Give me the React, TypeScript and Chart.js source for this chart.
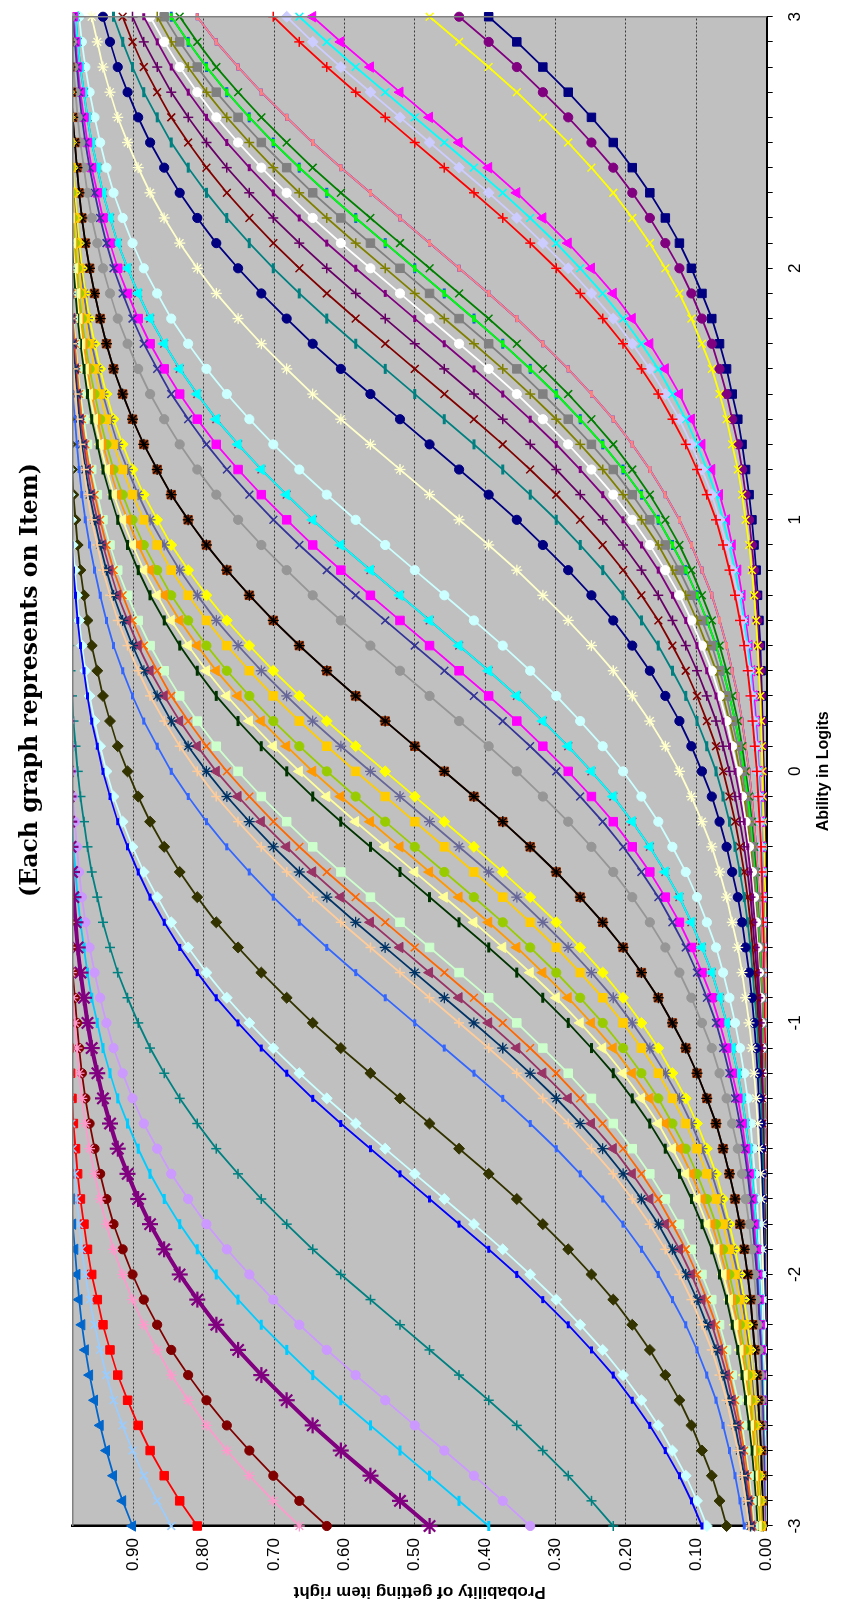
import React, { useEffect, useRef } from 'react';
import { Chart, registerables } from 'chart.js';

Chart.register(...registerables);

const CANVAS_W = 1606;
const CANVAS_H = 843;

const TITLE = '(Each graph represents on Item)';
const X_TITLE = 'Ability in Logits';
const Y_TITLE = 'Probability of getting item right';

const ABILITY = [-3, -2.9, -2.8, -2.7, -2.6, -2.5, -2.4, -2.3, -2.2, -2.1, -2, -1.9, -1.8, -1.7, -1.6, -1.5, -1.4, -1.3, -1.2, -1.1, -1, -0.9, -0.8, -0.7, -0.6, -0.5, -0.4, -0.3, -0.2, -0.1, 0, 0.1, 0.2, 0.3, 0.4, 0.5, 0.6, 0.7, 0.8, 0.9, 1, 1.1, 1.2, 1.3, 1.4, 1.5, 1.6, 1.7, 1.8, 1.9, 2, 2.1, 2.2, 2.3, 2.4, 2.5, 2.6, 2.7, 2.8, 2.9, 3];
const PROB_TICKS = [0, 0.1, 0.2, 0.3, 0.4, 0.5, 0.6, 0.7, 0.8, 0.9];
const PROB_MAX = 0.986;

const ITEM_01 = [.901,.915,.928,.938,.947,.955,.962,.968,.973,.977,.98,.983,.986,.988,.99,.991,.993,.994,.995,.996,.996,.997,.997,.998,.998,.998,.999,.999,.999,.999,.999,.999,1,1,1,1,1,1,1,1,1,1,1,1,1,1,1,1,1,1,1,1,1,1,1,1,1,1,1,1,1];
const ITEM_02 = [.846,.866,.885,.901,.915,.928,.938,.947,.955,.962,.968,.973,.977,.98,.983,.986,.988,.99,.991,.993,.994,.995,.996,.996,.997,.997,.998,.998,.998,.999,.999,.999,.999,.999,.999,1,1,1,1,1,1,1,1,1,1,1,1,1,1,1,1,1,1,1,1,1,1,1,1,1,1];
const ITEM_03 = [.809,.834,.856,.876,.893,.908,.922,.933,.943,.951,.959,.965,.97,.975,.979,.982,.985,.987,.989,.991,.992,.993,.994,.995,.996,.997,.997,.998,.998,.998,.999,.999,.999,.999,.999,.999,.999,1,1,1,1,1,1,1,1,1,1,1,1,1,1,1,1,1,1,1,1,1,1,1,1];
const ITEM_04 = [.664,.701,.735,.767,.796,.822,.846,.866,.885,.901,.915,.928,.938,.947,.955,.962,.968,.973,.977,.98,.983,.986,.988,.99,.991,.993,.994,.995,.996,.996,.997,.997,.998,.998,.998,.999,.999,.999,.999,.999,.999,1,1,1,1,1,1,1,1,1,1,1,1,1,1,1,1,1,1,1,1];
const ITEM_05 = [.625,.664,.701,.735,.767,.796,.822,.846,.866,.885,.901,.915,.928,.938,.947,.955,.962,.968,.973,.977,.98,.983,.986,.988,.99,.991,.993,.994,.995,.996,.996,.997,.997,.998,.998,.998,.999,.999,.999,.999,.999,.999,1,1,1,1,1,1,1,1,1,1,1,1,1,1,1,1,1,1,1];
const ITEM_06 = [.479,.521,.563,.605,.645,.682,.718,.751,.782,.809,.834,.856,.876,.893,.908,.922,.933,.943,.951,.959,.965,.97,.975,.979,.982,.985,.987,.989,.991,.992,.993,.994,.995,.996,.997,.997,.998,.998,.998,.999,.999,.999,.999,.999,.999,.999,1,1,1,1,1,1,1,1,1,1,1,1,1,1,1];
const ITEM_07 = [.395,.437,.479,.521,.563,.605,.645,.682,.718,.751,.782,.809,.834,.856,.876,.893,.908,.922,.933,.943,.951,.959,.965,.97,.975,.979,.982,.985,.987,.989,.991,.992,.993,.994,.995,.996,.997,.997,.998,.998,.998,.999,.999,.999,.999,.999,.999,.999,1,1,1,1,1,1,1,1,1,1,1,1,1];
const ITEM_08 = [.336,.375,.416,.458,.5,.542,.584,.625,.664,.701,.735,.767,.796,.822,.846,.866,.885,.901,.915,.928,.938,.947,.955,.962,.968,.973,.977,.98,.983,.986,.988,.99,.991,.993,.994,.995,.996,.996,.997,.997,.998,.998,.998,.999,.999,.999,.999,.999,.999,1,1,1,1,1,1,1,1,1,1,1,1];
const ITEM_09 = [.218,.249,.282,.318,.355,.395,.437,.479,.521,.563,.605,.645,.682,.718,.751,.782,.809,.834,.856,.876,.893,.908,.922,.933,.943,.951,.959,.965,.97,.975,.979,.982,.985,.987,.989,.991,.992,.993,.994,.995,.996,.997,.997,.998,.998,.998,.999,.999,.999,.999,.999,.999,.999,1,1,1,1,1,1,1,1];
const ITEM_10 = [.092,.107,.124,.144,.166,.191,.218,.249,.282,.318,.355,.395,.437,.479,.521,.563,.605,.645,.682,.718,.751,.782,.809,.834,.856,.876,.893,.908,.922,.933,.943,.951,.959,.965,.97,.975,.979,.982,.985,.987,.989,.991,.992,.993,.994,.995,.996,.997,.997,.998,.998,.998,.999,.999,.999,.999,.999,.999,.999,1,1];
const ITEM_11 = [.085,.099,.115,.134,.154,.178,.204,.233,.265,.299,.336,.375,.416,.458,.5,.542,.584,.625,.664,.701,.735,.767,.796,.822,.846,.866,.885,.901,.915,.928,.938,.947,.955,.962,.968,.973,.977,.98,.983,.986,.988,.99,.991,.993,.994,.995,.996,.996,.997,.997,.998,.998,.998,.999,.999,.999,.999,.999,.999,1,1];
const ITEM_12 = [.057,.067,.078,.092,.107,.124,.144,.166,.191,.218,.249,.282,.318,.355,.395,.437,.479,.521,.563,.605,.645,.682,.718,.751,.782,.809,.834,.856,.876,.893,.908,.922,.933,.943,.951,.959,.965,.97,.975,.979,.982,.985,.987,.989,.991,.992,.993,.994,.995,.996,.997,.997,.998,.998,.998,.999,.999,.999,.999,.999,.999];
const ITEM_13 = [.032,.038,.045,.053,.062,.072,.085,.099,.115,.134,.154,.178,.204,.233,.265,.299,.336,.375,.416,.458,.5,.542,.584,.625,.664,.701,.735,.767,.796,.822,.846,.866,.885,.901,.915,.928,.938,.947,.955,.962,.968,.973,.977,.98,.983,.986,.988,.99,.991,.993,.994,.995,.996,.996,.997,.997,.998,.998,.998,.999,.999];
const ITEM_14 = [.025,.03,.035,.041,.049,.057,.067,.078,.092,.107,.124,.144,.166,.191,.218,.249,.282,.318,.355,.395,.437,.479,.521,.563,.605,.645,.682,.718,.751,.782,.809,.834,.856,.876,.893,.908,.922,.933,.943,.951,.959,.965,.97,.975,.979,.982,.985,.987,.989,.991,.992,.993,.994,.995,.996,.997,.997,.998,.998,.998,.999];
const ITEM_15 = [.023,.027,.032,.038,.045,.053,.062,.072,.085,.099,.115,.134,.154,.178,.204,.233,.265,.299,.336,.375,.416,.458,.5,.542,.584,.625,.664,.701,.735,.767,.796,.822,.846,.866,.885,.901,.915,.928,.938,.947,.955,.962,.968,.973,.977,.98,.983,.986,.988,.99,.991,.993,.994,.995,.996,.996,.997,.997,.998,.998,.998];
const ITEM_16 = [.021,.025,.03,.035,.041,.049,.057,.067,.078,.092,.107,.124,.144,.166,.191,.218,.249,.282,.318,.355,.395,.437,.479,.521,.563,.605,.645,.682,.718,.751,.782,.809,.834,.856,.876,.893,.908,.922,.933,.943,.951,.959,.965,.97,.975,.979,.982,.985,.987,.989,.991,.992,.993,.994,.995,.996,.997,.997,.998,.998,.998];
const ITEM_17 = [.02,.023,.027,.032,.038,.045,.053,.062,.072,.085,.099,.115,.134,.154,.178,.204,.233,.265,.299,.336,.375,.416,.458,.5,.542,.584,.625,.664,.701,.735,.767,.796,.822,.846,.866,.885,.901,.915,.928,.938,.947,.955,.962,.968,.973,.977,.98,.983,.986,.988,.99,.991,.993,.994,.995,.996,.996,.997,.997,.998,.998];
const ITEM_18 = [.018,.021,.025,.03,.035,.041,.049,.057,.067,.078,.092,.107,.124,.144,.166,.191,.218,.249,.282,.318,.355,.395,.437,.479,.521,.563,.605,.645,.682,.718,.751,.782,.809,.834,.856,.876,.893,.908,.922,.933,.943,.951,.959,.965,.97,.975,.979,.982,.985,.987,.989,.991,.992,.993,.994,.995,.996,.997,.997,.998,.998];
const ITEM_19 = [.013,.015,.018,.021,.025,.03,.035,.041,.049,.057,.067,.078,.092,.107,.124,.144,.166,.191,.218,.249,.282,.318,.355,.395,.437,.479,.521,.563,.605,.645,.682,.718,.751,.782,.809,.834,.856,.876,.893,.908,.922,.933,.943,.951,.959,.965,.97,.975,.979,.982,.985,.987,.989,.991,.992,.993,.994,.995,.996,.997,.997];
const ITEM_20 = [.012,.014,.017,.02,.023,.027,.032,.038,.045,.053,.062,.072,.085,.099,.115,.134,.154,.178,.204,.233,.265,.299,.336,.375,.416,.458,.5,.542,.584,.625,.664,.701,.735,.767,.796,.822,.846,.866,.885,.901,.915,.928,.938,.947,.955,.962,.968,.973,.977,.98,.983,.986,.988,.99,.991,.993,.994,.995,.996,.996,.997];
const ITEM_21 = [.011,.013,.015,.018,.021,.025,.03,.035,.041,.049,.057,.067,.078,.092,.107,.124,.144,.166,.191,.218,.249,.282,.318,.355,.395,.437,.479,.521,.563,.605,.645,.682,.718,.751,.782,.809,.834,.856,.876,.893,.908,.922,.933,.943,.951,.959,.965,.97,.975,.979,.982,.985,.987,.989,.991,.992,.993,.994,.995,.996,.997];
const ITEM_22 = [.01,.012,.014,.017,.02,.023,.027,.032,.038,.045,.053,.062,.072,.085,.099,.115,.134,.154,.178,.204,.233,.265,.299,.336,.375,.416,.458,.5,.542,.584,.625,.664,.701,.735,.767,.796,.822,.846,.866,.885,.901,.915,.928,.938,.947,.955,.962,.968,.973,.977,.98,.983,.986,.988,.99,.991,.993,.994,.995,.996,.996];
const ITEM_23 = [.008,.01,.012,.014,.017,.02,.023,.027,.032,.038,.045,.053,.062,.072,.085,.099,.115,.134,.154,.178,.204,.233,.265,.299,.336,.375,.416,.458,.5,.542,.584,.625,.664,.701,.735,.767,.796,.822,.846,.866,.885,.901,.915,.928,.938,.947,.955,.962,.968,.973,.977,.98,.983,.986,.988,.99,.991,.993,.994,.995,.996];
const ITEM_24 = [.008,.009,.011,.013,.015,.018,.021,.025,.03,.035,.041,.049,.057,.067,.078,.092,.107,.124,.144,.166,.191,.218,.249,.282,.318,.355,.395,.437,.479,.521,.563,.605,.645,.682,.718,.751,.782,.809,.834,.856,.876,.893,.908,.922,.933,.943,.951,.959,.965,.97,.975,.979,.982,.985,.987,.989,.991,.992,.993,.994,.995];
const ITEM_25 = [.007,.008,.01,.012,.014,.017,.02,.023,.027,.032,.038,.045,.053,.062,.072,.085,.099,.115,.134,.154,.178,.204,.233,.265,.299,.336,.375,.416,.458,.5,.542,.584,.625,.664,.701,.735,.767,.796,.822,.846,.866,.885,.901,.915,.928,.938,.947,.955,.962,.968,.973,.977,.98,.983,.986,.988,.99,.991,.993,.994,.995];
const ITEM_26 = [.005,.006,.007,.008,.01,.012,.014,.017,.02,.023,.027,.032,.038,.045,.053,.062,.072,.085,.099,.115,.134,.154,.178,.204,.233,.265,.299,.336,.375,.416,.458,.5,.542,.584,.625,.664,.701,.735,.767,.796,.822,.846,.866,.885,.901,.915,.928,.938,.947,.955,.962,.968,.973,.977,.98,.983,.986,.988,.99,.991,.993];
const ITEM_27 = [.005,.006,.007,.008,.01,.012,.014,.017,.02,.023,.027,.032,.038,.045,.053,.062,.072,.085,.099,.115,.134,.154,.178,.204,.233,.265,.299,.336,.375,.416,.458,.5,.542,.584,.625,.664,.701,.735,.767,.796,.822,.846,.866,.885,.901,.915,.928,.938,.947,.955,.962,.968,.973,.977,.98,.983,.986,.988,.99,.991,.993];
const ITEM_28 = [.003,.004,.005,.006,.007,.008,.009,.011,.013,.015,.018,.021,.025,.03,.035,.041,.049,.057,.067,.078,.092,.107,.124,.144,.166,.191,.218,.249,.282,.318,.355,.395,.437,.479,.521,.563,.605,.645,.682,.718,.751,.782,.809,.834,.856,.876,.893,.908,.922,.933,.943,.951,.959,.965,.97,.975,.979,.982,.985,.987,.989];
const ITEM_29 = [.003,.003,.004,.004,.005,.006,.007,.008,.01,.012,.014,.017,.02,.023,.027,.032,.038,.045,.053,.062,.072,.085,.099,.115,.134,.154,.178,.204,.233,.265,.299,.336,.375,.416,.458,.5,.542,.584,.625,.664,.701,.735,.767,.796,.822,.846,.866,.885,.901,.915,.928,.938,.947,.955,.962,.968,.973,.977,.98,.983,.986];
const ITEM_30 = [.002,.003,.003,.004,.005,.006,.007,.008,.009,.011,.013,.015,.018,.021,.025,.03,.035,.041,.049,.057,.067,.078,.092,.107,.124,.144,.166,.191,.218,.249,.282,.318,.355,.395,.437,.479,.521,.563,.605,.645,.682,.718,.751,.782,.809,.834,.856,.876,.893,.908,.922,.933,.943,.951,.959,.965,.97,.975,.979,.982,.985];
const ITEM_31 = [.002,.002,.003,.003,.004,.005,.006,.007,.008,.009,.011,.013,.015,.018,.021,.025,.03,.035,.041,.049,.057,.067,.078,.092,.107,.124,.144,.166,.191,.218,.249,.282,.318,.355,.395,.437,.479,.521,.563,.605,.645,.682,.718,.751,.782,.809,.834,.856,.876,.893,.908,.922,.933,.943,.951,.959,.965,.97,.975,.979,.982];
const ITEM_32 = [.002,.002,.003,.003,.004,.005,.006,.007,.008,.009,.011,.013,.015,.018,.021,.025,.03,.035,.041,.049,.057,.067,.078,.092,.107,.124,.144,.166,.191,.218,.249,.282,.318,.355,.395,.437,.479,.521,.563,.605,.645,.682,.718,.751,.782,.809,.834,.856,.876,.893,.908,.922,.933,.943,.951,.959,.965,.97,.975,.979,.982];
const ITEM_33 = [.002,.002,.002,.003,.003,.004,.004,.005,.006,.007,.008,.01,.012,.014,.017,.02,.023,.027,.032,.038,.045,.053,.062,.072,.085,.099,.115,.134,.154,.178,.204,.233,.265,.299,.336,.375,.416,.458,.5,.542,.584,.625,.664,.701,.735,.767,.796,.822,.846,.866,.885,.901,.915,.928,.938,.947,.955,.962,.968,.973,.977];
const ITEM_34 = [.001,.001,.001,.001,.002,.002,.002,.003,.003,.004,.005,.006,.007,.008,.009,.011,.013,.015,.018,.021,.025,.03,.035,.041,.049,.057,.067,.078,.092,.107,.124,.144,.166,.191,.218,.249,.282,.318,.355,.395,.437,.479,.521,.563,.605,.645,.682,.718,.751,.782,.809,.834,.856,.876,.893,.908,.922,.933,.943,.951,.959];
const ITEM_35 = [.001,.001,.001,.001,.001,.001,.002,.002,.002,.003,.003,.004,.005,.006,.007,.008,.009,.011,.013,.015,.018,.021,.025,.03,.035,.041,.049,.057,.067,.078,.092,.107,.124,.144,.166,.191,.218,.249,.282,.318,.355,.395,.437,.479,.521,.563,.605,.645,.682,.718,.751,.782,.809,.834,.856,.876,.893,.908,.922,.933,.943];
const ITEM_36 = [0,.001,.001,.001,.001,.001,.001,.002,.002,.002,.003,.003,.004,.004,.005,.006,.007,.008,.01,.012,.014,.017,.02,.023,.027,.032,.038,.045,.053,.062,.072,.085,.099,.115,.134,.154,.178,.204,.233,.265,.299,.336,.375,.416,.458,.5,.542,.584,.625,.664,.701,.735,.767,.796,.822,.846,.866,.885,.901,.915,.928];
const ITEM_37 = [0,0,.001,.001,.001,.001,.001,.001,.002,.002,.002,.003,.003,.004,.004,.005,.006,.007,.008,.01,.012,.014,.017,.02,.023,.027,.032,.038,.045,.053,.062,.072,.085,.099,.115,.134,.154,.178,.204,.233,.265,.299,.336,.375,.416,.458,.5,.542,.584,.625,.664,.701,.735,.767,.796,.822,.846,.866,.885,.901,.915];
const ITEM_38 = [0,0,0,.001,.001,.001,.001,.001,.001,.002,.002,.002,.003,.003,.004,.004,.005,.006,.007,.008,.01,.012,.014,.017,.02,.023,.027,.032,.038,.045,.053,.062,.072,.085,.099,.115,.134,.154,.178,.204,.233,.265,.299,.336,.375,.416,.458,.5,.542,.584,.625,.664,.701,.735,.767,.796,.822,.846,.866,.885,.901];
const ITEM_39 = [0,0,0,0,.001,.001,.001,.001,.001,.001,.002,.002,.002,.003,.003,.004,.004,.005,.006,.007,.008,.01,.012,.014,.017,.02,.023,.027,.032,.038,.045,.053,.062,.072,.085,.099,.115,.134,.154,.178,.204,.233,.265,.299,.336,.375,.416,.458,.5,.542,.584,.625,.664,.701,.735,.767,.796,.822,.846,.866,.885];
const ITEM_40 = [0,0,0,0,.001,.001,.001,.001,.001,.001,.001,.002,.002,.002,.003,.003,.004,.005,.006,.007,.008,.009,.011,.013,.015,.018,.021,.025,.03,.035,.041,.049,.057,.067,.078,.092,.107,.124,.144,.166,.191,.218,.249,.282,.318,.355,.395,.437,.479,.521,.563,.605,.645,.682,.718,.751,.782,.809,.834,.856,.876];
const ITEM_41 = [0,0,0,0,0,.001,.001,.001,.001,.001,.001,.002,.002,.002,.003,.003,.004,.004,.005,.006,.007,.008,.01,.012,.014,.017,.02,.023,.027,.032,.038,.045,.053,.062,.072,.085,.099,.115,.134,.154,.178,.204,.233,.265,.299,.336,.375,.416,.458,.5,.542,.584,.625,.664,.701,.735,.767,.796,.822,.846,.866];
const ITEM_42 = [0,0,0,0,0,.001,.001,.001,.001,.001,.001,.001,.002,.002,.002,.003,.003,.004,.005,.006,.007,.008,.009,.011,.013,.015,.018,.021,.025,.03,.035,.041,.049,.057,.067,.078,.092,.107,.124,.144,.166,.191,.218,.249,.282,.318,.355,.395,.437,.479,.521,.563,.605,.645,.682,.718,.751,.782,.809,.834,.856];
const ITEM_43 = [0,0,0,0,0,0,.001,.001,.001,.001,.001,.001,.002,.002,.002,.003,.003,.004,.004,.005,.006,.007,.008,.01,.012,.014,.017,.02,.023,.027,.032,.038,.045,.053,.062,.072,.085,.099,.115,.134,.154,.178,.204,.233,.265,.299,.336,.375,.416,.458,.5,.542,.584,.625,.664,.701,.735,.767,.796,.822,.846];
const ITEM_44 = [0,0,0,0,0,0,.001,.001,.001,.001,.001,.001,.002,.002,.002,.003,.003,.004,.004,.005,.006,.007,.008,.01,.012,.014,.017,.02,.023,.027,.032,.038,.045,.053,.062,.072,.085,.099,.115,.134,.154,.178,.204,.233,.265,.299,.336,.375,.416,.458,.5,.542,.584,.625,.664,.701,.735,.767,.796,.822,.846];
const ITEM_45 = [0,0,0,0,0,0,.001,.001,.001,.001,.001,.001,.001,.002,.002,.002,.003,.003,.004,.005,.006,.007,.008,.009,.011,.013,.015,.018,.021,.025,.03,.035,.041,.049,.057,.067,.078,.092,.107,.124,.144,.166,.191,.218,.249,.282,.318,.355,.395,.437,.479,.521,.563,.605,.645,.682,.718,.751,.782,.809,.834];
const ITEM_46 = [0,0,0,0,0,0,0,.001,.001,.001,.001,.001,.001,.001,.002,.002,.002,.003,.003,.004,.005,.006,.007,.008,.009,.011,.013,.015,.018,.021,.025,.03,.035,.041,.049,.057,.067,.078,.092,.107,.124,.144,.166,.191,.218,.249,.282,.318,.355,.395,.437,.479,.521,.563,.605,.645,.682,.718,.751,.782,.809];
const ITEM_47 = [0,0,0,0,0,0,0,.001,.001,.001,.001,.001,.001,.001,.002,.002,.002,.003,.003,.004,.005,.006,.007,.008,.009,.011,.013,.015,.018,.021,.025,.03,.035,.041,.049,.057,.067,.078,.092,.107,.124,.144,.166,.191,.218,.249,.282,.318,.355,.395,.437,.479,.521,.563,.605,.645,.682,.718,.751,.782,.809];
const ITEM_48 = [0,0,0,0,0,0,0,0,0,0,0,.001,.001,.001,.001,.001,.001,.002,.002,.002,.003,.003,.004,.004,.005,.006,.007,.008,.01,.012,.014,.017,.02,.023,.027,.032,.038,.045,.053,.062,.072,.085,.099,.115,.134,.154,.178,.204,.233,.265,.299,.336,.375,.416,.458,.5,.542,.584,.625,.664,.701];
const ITEM_49 = [0,0,0,0,0,0,0,0,0,0,0,.001,.001,.001,.001,.001,.001,.001,.002,.002,.002,.003,.003,.004,.005,.006,.007,.008,.009,.011,.013,.015,.018,.021,.025,.03,.035,.041,.049,.057,.067,.078,.092,.107,.124,.144,.166,.191,.218,.249,.282,.318,.355,.395,.437,.479,.521,.563,.605,.645,.682];
const ITEM_50 = [0,0,0,0,0,0,0,0,0,0,0,0,.001,.001,.001,.001,.001,.001,.002,.002,.002,.003,.003,.004,.004,.005,.006,.007,.008,.01,.012,.014,.017,.02,.023,.027,.032,.038,.045,.053,.062,.072,.085,.099,.115,.134,.154,.178,.204,.233,.265,.299,.336,.375,.416,.458,.5,.542,.584,.625,.664];
const ITEM_51 = [0,0,0,0,0,0,0,0,0,0,0,0,.001,.001,.001,.001,.001,.001,.001,.002,.002,.002,.003,.003,.004,.005,.006,.007,.008,.009,.011,.013,.015,.018,.021,.025,.03,.035,.041,.049,.057,.067,.078,.092,.107,.124,.144,.166,.191,.218,.249,.282,.318,.355,.395,.437,.479,.521,.563,.605,.645];
const ITEM_52 = [0,0,0,0,0,0,0,0,0,0,0,0,0,0,0,0,.001,.001,.001,.001,.001,.001,.001,.002,.002,.002,.003,.003,.004,.005,.006,.007,.008,.009,.011,.013,.015,.018,.021,.025,.03,.035,.041,.049,.057,.067,.078,.092,.107,.124,.144,.166,.191,.218,.249,.282,.318,.355,.395,.437,.479];
const ITEM_53 = [0,0,0,0,0,0,0,0,0,0,0,0,0,0,0,0,0,.001,.001,.001,.001,.001,.001,.001,.002,.002,.002,.003,.003,.004,.005,.006,.007,.008,.009,.011,.013,.015,.018,.021,.025,.03,.035,.041,.049,.057,.067,.078,.092,.107,.124,.144,.166,.191,.218,.249,.282,.318,.355,.395,.437];
const ITEM_54 = [0,0,0,0,0,0,0,0,0,0,0,0,0,0,0,0,0,0,.001,.001,.001,.001,.001,.001,.001,.002,.002,.002,.003,.003,.004,.005,.006,.007,.008,.009,.011,.013,.015,.018,.021,.025,.03,.035,.041,.049,.057,.067,.078,.092,.107,.124,.144,.166,.191,.218,.249,.282,.318,.355,.395];

type MarkerKey = 'square' | 'circle' | 'triangle' | 'diamond' | 'x' | 'star' | 'plus' | 'dash' | 'longdash';

const MARKERS: Record<MarkerKey, { style: string; radius: number; width: number }> = {
  square: { style: 'rect', radius: 6, width: 1 },
  circle: { style: 'circle', radius: 4.6, width: 1 },
  triangle: { style: 'triangle', radius: 6, width: 1 },
  diamond: { style: 'rectRot', radius: 5.5, width: 1 },
  x: { style: 'crossRot', radius: 5.5, width: 1.5 },
  star: { style: 'star', radius: 5.5, width: 1.3 },
  plus: { style: 'cross', radius: 5, width: 1.5 },
  dash: { style: 'line', radius: 3.5, width: 3 },
  longdash: { style: 'line', radius: 5, width: 3 },
};

const SERIES: { data: number[]; color: string; marker: MarkerKey; heavy?: boolean }[] = [
  { data: ITEM_01, color: '#0066CC', marker: 'triangle' },
  { data: ITEM_02, color: '#99CCFF', marker: 'x' },
  { data: ITEM_03, color: '#FF0000', marker: 'square' },
  { data: ITEM_04, color: '#FF99CC', marker: 'star' },
  { data: ITEM_05, color: '#800000', marker: 'circle' },
  { data: ITEM_06, color: '#800080', marker: 'star', heavy: true },
  { data: ITEM_07, color: '#00CCFF', marker: 'longdash' },
  { data: ITEM_08, color: '#CC99FF', marker: 'circle' },
  { data: ITEM_09, color: '#008080', marker: 'plus' },
  { data: ITEM_10, color: '#0000FF', marker: 'dash' },
  { data: ITEM_11, color: '#CCFFFF', marker: 'diamond' },
  { data: ITEM_12, color: '#333300', marker: 'diamond' },
  { data: ITEM_13, color: '#3366FF', marker: 'dash' },
  { data: ITEM_14, color: '#FFCC99', marker: 'plus' },
  { data: ITEM_15, color: '#003366', marker: 'star' },
  { data: ITEM_16, color: '#993366', marker: 'triangle' },
  { data: ITEM_17, color: '#FF6600', marker: 'x' },
  { data: ITEM_18, color: '#CCFFCC', marker: 'square' },
  { data: ITEM_19, color: '#003300', marker: 'longdash' },
  { data: ITEM_20, color: '#FFFF99', marker: 'triangle' },
  { data: ITEM_21, color: '#FF9900', marker: 'triangle' },
  { data: ITEM_22, color: '#99CC00', marker: 'circle' },
  { data: ITEM_23, color: '#FFCC00', marker: 'square' },
  { data: ITEM_24, color: '#666699', marker: 'star' },
  { data: ITEM_25, color: '#FFFF00', marker: 'diamond' },
  { data: ITEM_27, color: '#000000', marker: 'star' },
  { data: ITEM_26, color: '#993300', marker: 'square' },
  { data: ITEM_28, color: '#969696', marker: 'circle' },
  { data: ITEM_29, color: '#333399', marker: 'x' },
  { data: ITEM_30, color: '#FF00FF', marker: 'square' },
  { data: ITEM_31, color: '#00FFFF', marker: 'triangle' },
  { data: ITEM_32, color: '#993366', marker: 'x' },
  { data: ITEM_33, color: '#CCFFFF', marker: 'circle' },
  { data: ITEM_34, color: '#FFFFCC', marker: 'star' },
  { data: ITEM_35, color: '#000080', marker: 'circle' },
  { data: ITEM_36, color: '#008080', marker: 'longdash' },
  { data: ITEM_37, color: '#800000', marker: 'x' },
  { data: ITEM_38, color: '#660066', marker: 'plus' },
  { data: ITEM_39, color: '#800080', marker: 'dash' },
  { data: ITEM_40, color: '#FFFFFF', marker: 'circle' },
  { data: ITEM_41, color: '#808000', marker: 'plus' },
  { data: ITEM_42, color: '#808080', marker: 'square' },
  { data: ITEM_43, color: '#00FF00', marker: 'dash' },
  { data: ITEM_44, color: '#0066CC', marker: 'longdash' },
  { data: ITEM_45, color: '#008000', marker: 'x' },
  { data: ITEM_46, color: '#FF8080', marker: 'dash' },
  { data: ITEM_47, color: '#0000FF', marker: 'dash' },
  { data: ITEM_48, color: '#FF0000', marker: 'plus' },
  { data: ITEM_49, color: '#CCCCFF', marker: 'diamond' },
  { data: ITEM_50, color: '#00FFFF', marker: 'x' },
  { data: ITEM_51, color: '#FF00FF', marker: 'triangle' },
  { data: ITEM_52, color: '#FFFF00', marker: 'x' },
  { data: ITEM_53, color: '#800080', marker: 'circle' },
  { data: ITEM_54, color: '#000080', marker: 'square' },
];

const SANS = '"Liberation Sans", Arial, sans-serif';
const SERIF = '"DejaVu Serif", "Liberation Serif", serif';

const backgroundPlugin = {
  id: 'plotBackground',
  beforeDraw(chart: any) {
    const { ctx, chartArea: a } = chart;
    ctx.save();
    ctx.fillStyle = '#FFFFFF';
    ctx.fillRect(0, 0, chart.width, chart.height);
    ctx.fillStyle = '#C0C0C0';
    ctx.fillRect(a.left, a.top, a.right - a.left, a.bottom - a.top);
    ctx.restore();
  },
};

const textPlugin = {
  id: 'texts',
  afterDraw(chart: any) {
    const { ctx, chartArea: a } = chart;
    ctx.save();
    ctx.strokeStyle = '#808080';
    ctx.lineWidth = 1.5;
    ctx.beginPath();
    ctx.moveTo(a.left, a.top);
    ctx.lineTo(a.right, a.top);
    ctx.lineTo(a.right, a.bottom);
    ctx.stroke();

    ctx.fillStyle = '#000000';
    ctx.textAlign = 'center';
    ctx.textBaseline = 'middle';
    let size = 24;
    ctx.font = `bold ${size}px ${SERIF}`;
    const w = ctx.measureText(TITLE).width;
    size = (size * 434) / w;
    ctx.font = `bold ${size.toFixed(2)}px ${SERIF}`;
    ctx.fillText(TITLE, 926, 31);

    ctx.font = `bold 16px ${SANS}`;
    ctx.fillText(X_TITLE, (a.left + a.right) / 2, 824);

    ctx.translate(14, (a.top + a.bottom) / 2);
    ctx.rotate(-Math.PI / 2);
    ctx.font = `bold 17px ${SANS}`;
    ctx.fillText(Y_TITLE, 0, 0);
    ctx.restore();
  },
};

export default function App() {
  const ref = useRef<HTMLCanvasElement>(null);

  useEffect(() => {
    const canvas = ref.current;
    if (!canvas) return;
    const datasets = SERIES.map((s, i) => {
      const m = MARKERS[s.marker];
      const heavy = !!s.heavy;
      return {
        label: `Item ${i + 1}`,
        data: s.data,
        borderColor: s.color,
        backgroundColor: s.color,
        borderWidth: heavy ? 4 : 1.8,
        pointStyle: m.style as any,
        pointRadius: heavy ? 8 : m.radius,
        pointBorderWidth: heavy ? 2.2 : m.width,
        pointBackgroundColor: s.color,
        pointBorderColor: s.color,
        pointHoverRadius: m.radius,
        fill: false,
        tension: 0,
      };
    });

    const chart = new Chart(canvas, {
      type: 'line',
      data: { labels: ABILITY.map((v) => String(v)), datasets },
      options: {
        animation: false,
        responsive: false,
        devicePixelRatio: 1,
        events: [],
        layout: { padding: { left: 0, right: 14, top: 72.7, bottom: 0 } },
        plugins: {
          legend: { display: false },
          tooltip: { enabled: false },
          title: { display: false },
        },
        scales: {
          x: {
            type: 'category',
            position: 'bottom',
            offset: false,
            grid: { display: true, drawOnChartArea: false, drawTicks: true, tickLength: 6, color: '#000000', lineWidth: 1 },
            border: { display: true, color: '#000000', width: 2 },
            ticks: {
              autoSkip: false,
              maxRotation: 0,
              minRotation: 0,
              padding: 12,
              color: '#000000',
              font: { family: SANS, size: 17 },
              callback: (_v: any, i: number) => (i % 10 === 0 ? String(ABILITY[i]) : ''),
            },
            afterFit: (s: any) => {
              s.height = 76.3;
            },
          },
          y: {
            type: 'linear',
            position: 'left',
            min: 0,
            max: PROB_MAX,
            afterBuildTicks: (s: any) => {
              s.ticks = PROB_TICKS.map((v) => ({ value: v }));
            },
            grid: { display: true, drawTicks: false, color: '#3a3a3a', lineWidth: 1 },
            border: { display: true, color: '#000000', width: 2.5, dash: [2, 2] },
            ticks: {
              padding: 12,
              color: '#000000',
              font: { family: SANS, size: 17 },
              callback: (v: any) => Number(v).toFixed(2),
            },
            afterFit: (s: any) => {
              s.width = 80;
            },
          },
        },
      },
      plugins: [backgroundPlugin, textPlugin],
    });
    return () => chart.destroy();
  }, []);

  return (
    <div style={{ position: 'absolute', left: 0, top: 0, width: 843, height: 1606, overflow: 'hidden', background: '#FFFFFF' }}>
      <div
        style={{
          position: 'absolute',
          left: 0,
          top: 0,
          width: CANVAS_W,
          height: CANVAS_H,
          transformOrigin: '0 0',
          transform: `translate(0px, ${CANVAS_W}px) rotate(-90deg)`,
        }}
      >
        <canvas ref={ref} width={CANVAS_W} height={CANVAS_H} style={{ display: 'block', width: CANVAS_W, height: CANVAS_H }} />
      </div>
    </div>
  );
}
